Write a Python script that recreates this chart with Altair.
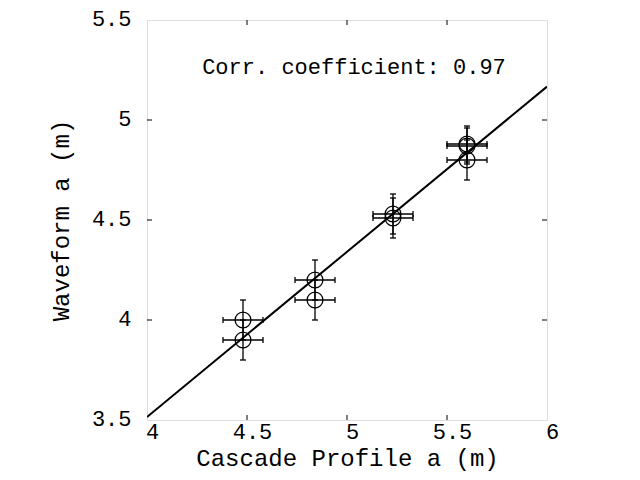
import altair as alt
import pandas as pd

# data
cascade_a = [4.48, 4.48, 4.84, 4.84, 5.23, 5.23, 5.60, 5.60, 5.60]
waveform_a = [4.00, 3.90, 4.20, 4.10, 4.53, 4.51, 4.88, 4.87, 4.80]
x_err = [0.10, 0.10, 0.10, 0.10, 0.10, 0.10, 0.10, 0.10, 0.10]
y_err = [0.10, 0.10, 0.10, 0.10, 0.10, 0.10, 0.09, 0.09, 0.10]

fit_x = [4.0, 6.0]
fit_y = [3.515, 5.167]

x_ticks = [4.0, 4.5, 5.0, 5.5, 6.0]
y_ticks = [3.5, 4.0, 4.5, 5.0, 5.5]
x_inner_ticks = [4.5, 5.0, 5.5]
y_inner_ticks = [4.0, 4.5, 5.0]

annotation = "Corr. coefficient: 0.97"

FONT = "Liberation Mono"
W, H = 400, 400

df = pd.DataFrame({"x": cascade_a, "y": waveform_a, "xe": x_err, "ye": y_err})
df["xlo"] = df["x"] - df["xe"]
df["xhi"] = df["x"] + df["xe"]
df["ylo"] = df["y"] - df["ye"]
df["yhi"] = df["y"] + df["ye"]

fit = pd.DataFrame({"x": fit_x, "y": fit_y})
xt = pd.DataFrame({"v": x_inner_ticks})
yt = pd.DataFrame({"v": y_inner_ticks})

xscale = alt.Scale(domain=[4, 6], nice=False, zero=False)
yscale = alt.Scale(domain=[3.5, 5.5], nice=False, zero=False)

xaxis = alt.Axis(values=x_ticks, title="Cascade Profile a (m)", grid=False, ticks=False,
                 domain=False, labelFont=FONT, labelFontSize=22, labelColor="black",
                 titleFont=FONT, titleFontSize=24, titleFontWeight="normal", titleColor="black",
                 labelPadding=1, labelOffset=5, labelFlush=False, labelOverlap=False,
                 titleBaseline="alphabetic", titleY=45, format="~g")
yaxis = alt.Axis(values=y_ticks, title="Waveform a (m)", grid=False, ticks=False,
                 domain=False, labelFont=FONT, labelFontSize=22, labelColor="black",
                 titleFont=FONT, titleFontSize=24, titleFontWeight="normal", titleColor="black",
                 labelPadding=16, labelOffset=-2, labelFlush=False, labelOverlap=False,
                 titlePadding=18, format="~g")

base = alt.Chart(df)
EB = 1.3

vbars = base.mark_rule(color="black", strokeWidth=EB).encode(
    x=alt.X("x:Q", scale=xscale, axis=xaxis),
    y=alt.Y("ylo:Q", scale=yscale, axis=yaxis),
    y2="yhi:Q",
)
hbars = base.mark_rule(color="black", strokeWidth=EB).encode(
    x=alt.X("xlo:Q", scale=xscale), x2="xhi:Q",
    y=alt.Y("y:Q", scale=yscale),
)
cap_top = base.mark_tick(color="black", thickness=EB, size=6, orient="horizontal", opacity=1).encode(
    x=alt.X("x:Q", scale=xscale), y=alt.Y("yhi:Q", scale=yscale))
cap_bot = base.mark_tick(color="black", thickness=EB, size=6, orient="horizontal", opacity=1).encode(
    x=alt.X("x:Q", scale=xscale), y=alt.Y("ylo:Q", scale=yscale))
cap_left = base.mark_tick(color="black", thickness=EB, size=6, orient="vertical", opacity=1).encode(
    x=alt.X("xlo:Q", scale=xscale), y=alt.Y("y:Q", scale=yscale))
cap_right = base.mark_tick(color="black", thickness=EB, size=6, orient="vertical", opacity=1).encode(
    x=alt.X("xhi:Q", scale=xscale), y=alt.Y("y:Q", scale=yscale))

points = base.mark_point(shape="circle", filled=False, size=250, color="black",
                         strokeWidth=1.3, opacity=1).encode(
    x=alt.X("x:Q", scale=xscale), y=alt.Y("y:Q", scale=yscale))

line = alt.Chart(fit).mark_line(color="black", strokeWidth=2, clip=True).encode(
    x=alt.X("x:Q", scale=xscale), y=alt.Y("y:Q", scale=yscale))

tick_len = 5
xt_bottom = alt.Chart(xt).mark_rule(color="black", strokeWidth=1).encode(
    x=alt.X("v:Q", scale=xscale), y=alt.value(H), y2=alt.value(H - tick_len))
xt_top = alt.Chart(xt).mark_rule(color="black", strokeWidth=1).encode(
    x=alt.X("v:Q", scale=xscale), y=alt.value(0), y2=alt.value(tick_len))
yt_left = alt.Chart(yt).mark_rule(color="black", strokeWidth=1).encode(
    y=alt.Y("v:Q", scale=yscale), x=alt.value(0), x2=alt.value(tick_len))
yt_right = alt.Chart(yt).mark_rule(color="black", strokeWidth=1).encode(
    y=alt.Y("v:Q", scale=yscale), x=alt.value(W), x2=alt.value(W - tick_len))

note = alt.Chart(pd.DataFrame({"t": [annotation]})).mark_text(
    font=FONT, fontSize=22, color="black", align="center", baseline="middle"
).encode(x=alt.value(207), y=alt.value(47), text="t:N")

chart = alt.layer(
    vbars, hbars, cap_top, cap_bot, cap_left, cap_right, points, line,
    xt_bottom, xt_top, yt_left, yt_right, note
).properties(
    width=W, height=H,
    autosize=alt.AutoSizeParams(type="none"),
    padding={"left": 139, "top": 12, "right": 85, "bottom": 52},
).configure_view(
    stroke="black", strokeWidth=1
).configure(background="white")

chart.save("out.html", embed_options={"renderer": "svg", "actions": False})
